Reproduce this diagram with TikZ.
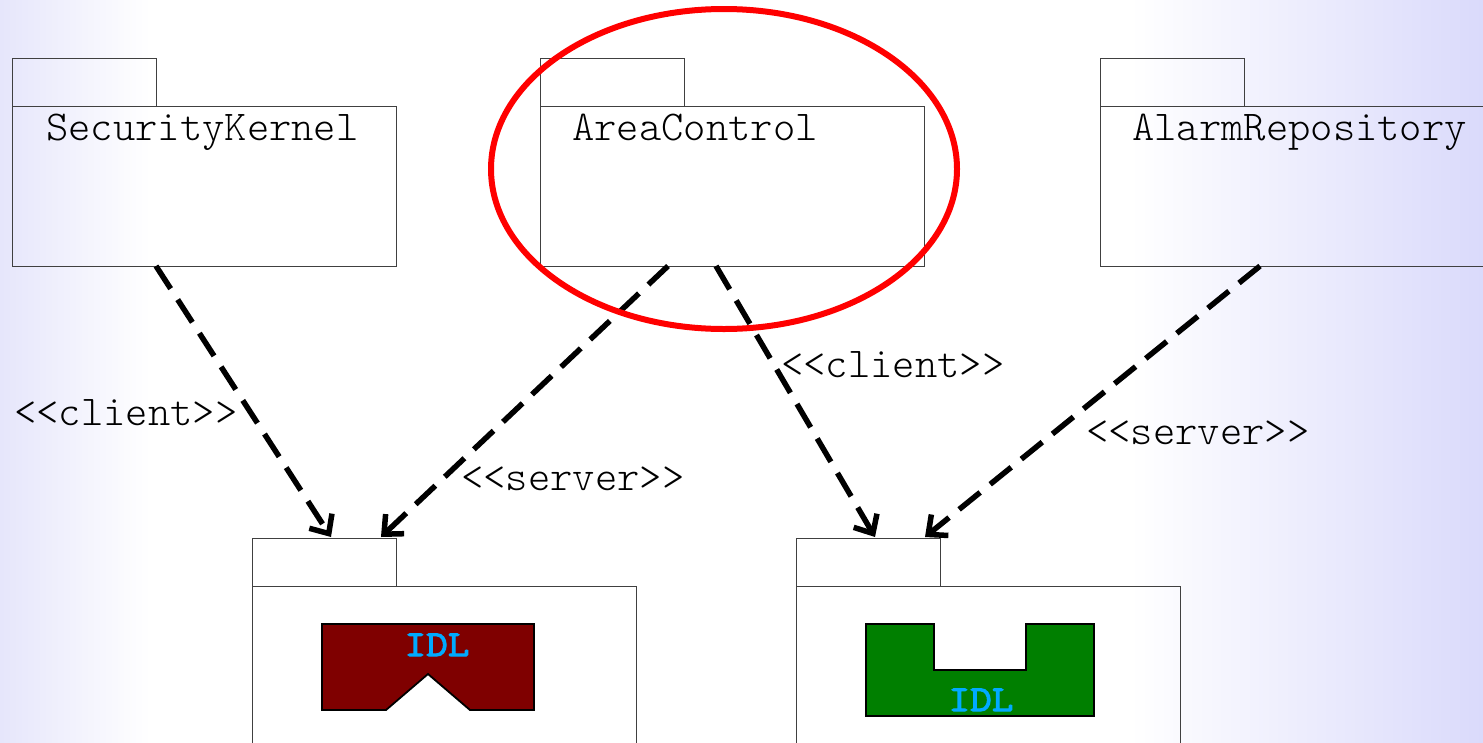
\documentclass[tikz,border=0pt]{standalone}
\usepackage{fontspec}
\newfontfamily\pkgfont{Latin Modern Mono Light}
\newfontfamily\idlfont[FakeBold=3,FakeStretch=1.15]{Latin Modern Mono}
\usetikzlibrary{arrows.meta,shapes.geometric}
\definecolor{bgl}{RGB}{230,230,251}
\definecolor{bgr}{RGB}{218,218,251}
\definecolor{idlblue}{RGB}{0,170,255}
\definecolor{idlred}{RGB}{127,0,0}
\definecolor{idlgreen}{RGB}{0,127,0}
\tikzset{
  pkgline/.style={draw=black!75,line width=0.9pt,inner sep=0pt,outer sep=0pt,anchor=north west},
  pkgtab/.style={pkgline,minimum width=144pt,minimum height=48pt},
  pkgbody/.style={pkgline,minimum width=384pt,minimum height=160pt},
  monotext/.style={font=\pkgfont\fontsize{42.5}{42}\selectfont,inner sep=0pt,anchor=base west,text=black},
  idltext/.style={font=\idlfont\fontsize{36.5}{36}\selectfont,inner sep=0pt,anchor=base,text=idlblue},
  dep/.style={draw=black,line width=5.5pt,dash pattern=on 27pt off 13pt,-{Straight Barb[length=15pt,width=27pt,line width=5.5pt]}},
  iface/.style={draw=black,line width=1.8pt,line join=miter}
}
\begin{document}
\begin{tikzpicture}[x=1pt,y=-1pt]
\useasboundingbox (0,0) rectangle (1483,742);
\clip (0,0) rectangle (1483,742);
\fill[left color=bgl,right color=white] (0,0) rectangle (150,742);
\fill[white] (150,0) rectangle (1130,742);
\fill[left color=white,right color=bgr] (1130,0) rectangle (1483,742);

\node[pkgtab]  (sktab)  at (12.1,58.1) {};
\node[pkgbody] (skbody) at (12.1,106.1) {};
\node[pkgtab]  (actab)  at (540.1,58.1) {};
\node[pkgbody] (acbody) at (540.1,106.1) {};
\node[pkgtab]  (artab)  at (1100.1,58.1) {};
\node[pkgbody] (arbody) at (1100.1,106.1) {};
\node[pkgtab]  (ltab)   at (252.1,538.1) {};
\node[pkgbody] (lbody)  at (252.1,586.1) {};
\node[pkgtab]  (rtab)   at (796.1,538.1) {};
\node[pkgbody] (rbody)  at (796.1,586.1) {};

\node[monotext] (sklabel) at (46,140) {SecurityKernel};
\node[monotext] (aclabel) at (572,140) {AreaControl};
\node[monotext] (arlabel) at (1132,140) {AlarmRepository};

\draw[iface,fill=idlred] (322,624) -- (534,624) -- (534,710) -- (470,710) -- (428,674) -- (386,710) -- (322,710) -- cycle;
\draw[iface,fill=idlgreen] (866,624) -- (934,624) -- (934,670) -- (1026,670) -- (1026,624) -- (1094,624) -- (1094,716) -- (866,716) -- cycle;
\node[idltext] (idlleft) at (437,656) {IDL};
\node[idltext] (idlright) at (981,711) {IDL};

\coordinate (skout) at (156,266);
\coordinate (acoutl) at (668,266);
\coordinate (acoutr) at (716,266);
\coordinate (arout) at (1260,266);
\coordinate (lin1) at (331,537);
\coordinate (lin2) at (381,537);
\coordinate (rin1) at (875,537);
\coordinate (rin2) at (925,537);
\draw[dep] (skout) -- (lin1);
\draw[dep] (acoutl) -- (lin2);
\draw[dep] (acoutr) -- (rin1);
\draw[dep] (arout) -- (rin2);

\node[draw=red,line width=6pt,ellipse,minimum width=466pt,minimum height=320pt,inner sep=0pt] (focus) at (724,169) {};

\node[monotext] (dep1) at (14,425) {<{}<client>{}>};
\node[monotext] (dep2) at (461,490) {<{}<server>{}>};
\node[monotext] (dep3) at (781,377) {<{}<client>{}>};
\node[monotext] (dep4) at (1086,444) {<{}<server>{}>};
\end{tikzpicture}
\end{document}
